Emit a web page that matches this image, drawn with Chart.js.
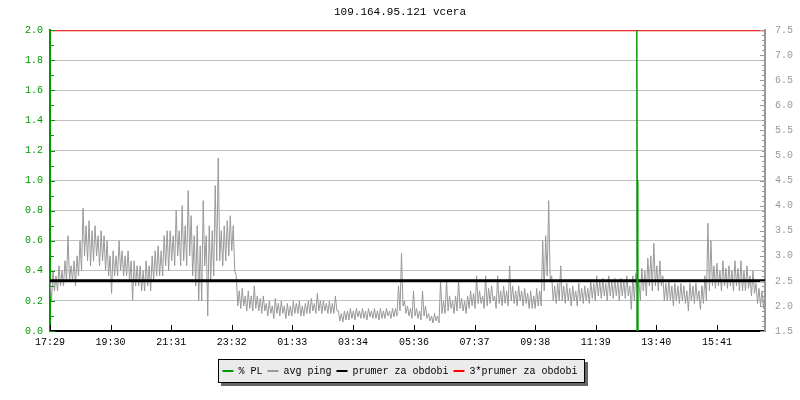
<!DOCTYPE html>
<html>
<head>
<meta charset="utf-8">
<title>109.164.95.121 vcera</title>
<script src="https://cdn.jsdelivr.net/npm/chart.js@4/dist/chart.umd.min.js"></script>
<style>
  html, body { margin: 0; padding: 0; background: #fff; }
  #wrap { width: 800px; height: 400px; }
</style>
</head>
<body>
<div id="wrap"><canvas id="graf" width="800" height="400"></canvas></div>
<script>
// --- data ---
const chartTitle = '109.164.95.121 vcera';
const timeLabels = ['17:29', '19:30', '21:31', '23:32', '01:33', '03:34', '05:36', '07:37', '09:38', '11:39', '13:40', '15:41'];
const tickMinutes = [0, 121, 242, 363, 484, 605, 727, 848, 969, 1090, 1211, 1332]; // minutes from 17:29
const spanMinutes = 1428;
const pingStep = 6; // one slot every 6 minutes, max then min inside the slot

// avg ping (right axis), highest value in each slot
const pingHi = [
	2.5, 2.7, 2.6, 2.8, 2.7, 2.9, 3.4, 2.8, 2.9, 3.0,
	3.3, 3.95, 3.6, 3.7, 3.5, 3.6, 3.4, 3.5, 3.4, 3.3,
	3.0, 3.1, 3.0, 3.3, 3.1, 3.0, 3.1, 2.9, 2.9, 2.8,
	2.8, 2.7, 2.9, 2.8, 3.0, 3.1, 3.2, 3.1, 3.4, 3.5,
	3.5, 3.4, 3.9, 3.5, 4.0, 3.6, 4.3, 3.8, 3.4, 3.6,
	3.2, 4.1, 3.4, 3.6, 3.5, 4.4, 4.95, 3.5, 3.6, 3.7,
	3.8, 3.6, 2.6, 2.3, 2.35, 2.2, 2.3, 2.2, 2.4, 2.2,
	2.15, 2.2, 2.05, 2.1, 2.0, 2.15, 2.05, 2.1, 2.0, 2.05,
	2.0, 2.1, 2.05, 2.1, 2.0, 2.05, 2.1, 2.15, 2.05, 2.25,
	2.1, 2.1, 2.05, 2.1, 2.05, 2.2, 1.9, 1.85, 1.9, 1.9,
	1.95, 1.9, 1.95, 1.9, 1.95, 1.9, 1.95, 1.9, 1.95, 1.9,
	1.95, 1.9, 1.95, 1.9, 1.95, 1.95, 2.4, 3.05, 2.1, 2.0,
	1.95, 2.3, 1.95, 1.9, 2.3, 2.0, 1.85, 1.8, 1.85, 1.8,
	2.5, 2.1, 2.5, 2.2, 2.1, 2.2, 2.5, 2.15, 2.1, 2.2,
	2.3, 2.25, 2.6, 2.3, 2.2, 2.6, 2.35, 2.4, 2.2, 2.6,
	2.3, 2.4, 2.3, 2.8, 2.4, 2.3, 2.4, 2.3, 2.35, 2.25,
	2.3, 2.2, 2.35, 2.3, 3.3, 3.4, 4.1, 2.6, 2.4, 2.45,
	2.8, 2.4, 2.45, 2.35, 2.4, 2.3, 2.45, 2.35, 2.4, 2.35,
	2.5, 2.45, 2.6, 2.5, 2.55, 2.45, 2.6, 2.5, 2.55, 2.5,
	2.55, 2.5, 2.6, 2.4, 2.6, 2.65, 2.5, 2.75, 2.7, 2.95,
	3.0, 3.25, 2.8, 2.9, 2.6, 2.45, 2.5, 2.4, 2.45, 2.4,
	2.45, 2.4, 2.3, 2.45, 2.4, 2.45, 2.3, 2.4, 2.6, 3.65,
	3.3, 2.8, 2.85, 2.7, 2.9, 2.75, 2.8, 2.7, 2.9, 2.75,
	2.9, 2.7, 2.8, 2.6, 2.7, 2.45, 2.35, 2.3, 2.3
];

// avg ping (right axis), lowest value in each slot
const pingLo = [
	2.1, 2.3, 2.3, 2.4, 2.4, 2.5, 2.5, 2.5, 2.4, 2.6,
	2.7, 3.0, 2.9, 2.8, 2.9, 3.0, 2.8, 2.9, 2.7, 2.6,
	2.25, 2.6, 2.6, 2.7, 2.6, 2.6, 2.5, 2.1, 2.4, 2.4,
	2.3, 2.3, 2.4, 2.3, 2.5, 2.6, 2.6, 2.6, 2.8, 2.7,
	2.9, 2.8, 3.0, 2.8, 2.9, 2.8, 3.0, 2.6, 2.4, 2.1,
	2.1, 2.8, 1.8, 2.5, 2.6, 2.9, 2.9, 2.8, 2.9, 3.0,
	3.1, 2.7, 2.0, 1.95, 2.0, 1.9, 1.95, 1.9, 1.95, 1.9,
	1.85, 1.9, 1.8, 1.85, 1.75, 1.85, 1.8, 1.85, 1.75, 1.8,
	1.8, 1.85, 1.85, 1.8, 1.8, 1.85, 1.85, 1.9, 1.85, 1.9,
	1.85, 1.9, 1.85, 1.85, 1.85, 1.9, 1.7, 1.68, 1.72, 1.72,
	1.75, 1.72, 1.78, 1.75, 1.75, 1.72, 1.78, 1.75, 1.75, 1.72,
	1.75, 1.75, 1.8, 1.75, 1.78, 1.8, 1.9, 2.0, 1.85, 1.8,
	1.75, 1.8, 1.75, 1.72, 1.8, 1.75, 1.7, 1.66, 1.7, 1.66,
	1.85, 1.85, 1.9, 1.95, 1.85, 1.9, 1.95, 1.9, 1.85, 1.95,
	2.0, 1.95, 2.05, 2.05, 1.95, 2.0, 2.05, 2.1, 1.95, 2.05,
	2.0, 2.05, 2.0, 2.1, 2.05, 2.0, 2.1, 2.0, 2.05, 1.95,
	1.95, 1.95, 2.0, 2.0, 2.3, 2.6, 2.5, 2.1, 2.05, 2.1,
	2.1, 2.05, 2.1, 2.0, 2.1, 2.0, 2.1, 2.05, 2.1, 2.05,
	2.15, 2.1, 2.2, 2.15, 2.2, 2.1, 2.2, 2.15, 2.2, 2.1,
	2.2, 2.15, 2.2, 1.93, 2.1, 2.3, 2.1, 2.3, 2.2, 2.4,
	2.3, 2.4, 2.3, 2.4, 2.1, 2.1, 2.1, 2.0, 2.1, 2.05,
	2.1, 2.05, 1.9, 2.1, 2.05, 2.1, 1.93, 2.05, 2.1, 2.3,
	2.4, 2.35, 2.4, 2.3, 2.4, 2.35, 2.4, 2.3, 2.4, 2.3,
	2.3, 2.3, 2.35, 2.2, 2.25, 2.05, 2.0, 1.95, 2.05
];

// packet loss spike (left axis, %)
const plMinutes = [1171, 1172, 1173, 1174];
const plValues = [0, 2, 1, 0];

const prumer = 2.5; // prumer za obdobi
const prumer3 = 3 * prumer;

const GREEN = '#009900';
const GRAY = '#999999';

Chart.defaults.font.family = '"Liberation Mono", "DejaVu Sans Mono", monospace';
Chart.defaults.font.size = 10;
Chart.defaults.color = '#000';

// max and min of every slot, one after the other
const pingPoints = [];
pingHi.forEach(function (v, i) {
	pingPoints.push({ x: i * pingStep, y: v });
	pingPoints.push({ x: i * pingStep + pingStep / 2, y: pingLo[i] });
});

// inward tick marks + minor ticks like rrdtool draws them
const tickMarks = {
	id: 'tickMarks',
	afterDraw(chart) {
		const ctx = chart.ctx;
		const area = chart.chartArea;
		const yl = chart.scales.y;
		const yr = chart.scales.y2;
		const x = chart.scales.x;
		ctx.save();
		ctx.lineWidth = 1;
		//left axis
		ctx.strokeStyle = GREEN;
		for (let k = 0; k <= 20; k++) {
			const py = Math.round(yl.getPixelForValue(k / 10)) + 0.5;
			const len = (k % 2 === 0) ? 5 : 4;
			ctx.beginPath(); ctx.moveTo(area.left, py); ctx.lineTo(area.left + len, py); ctx.stroke();
		}
		//right axis
		ctx.strokeStyle = GRAY;
		for (let k = 15; k <= 75; k++) {
			const py = Math.round(yr.getPixelForValue(k / 10)) + 0.5;
			const len = (k % 5 === 0) ? 5 : 3;
			ctx.beginPath(); ctx.moveTo(area.right, py); ctx.lineTo(area.right - len, py); ctx.stroke();
		}
		//time axis
		ctx.strokeStyle = '#000';
		tickMinutes.forEach(function (m) {
			const px = Math.round(x.getPixelForValue(m)) + 0.5;
			ctx.beginPath(); ctx.moveTo(px, area.bottom); ctx.lineTo(px, area.bottom - 6); ctx.stroke();
		});
		ctx.restore();
	}
};

// grey box with shadow behind the legend
const legendBox = {
	id: 'legendBox',
	beforeDraw(chart) {
		const lg = chart.legend;
		if (!lg || !lg.legendHitBoxes || !lg.legendHitBoxes.length) return;
		const hb = lg.legendHitBoxes;
		const l = Math.round(Math.min.apply(null, hb.map(b => b.left))) - 4;
		const r = Math.round(Math.max.apply(null, hb.map(b => b.left + b.width))) + 7;
		const t = Math.round(hb[0].top) - 7;
		const b = Math.round(hb[0].top + hb[0].height) + 7;
		const ctx = chart.ctx;
		ctx.save();
		ctx.fillStyle = '#666666';
		ctx.fillRect(l + 3, t + 3, r - l, b - t);
		ctx.fillStyle = '#ebebeb';
		ctx.fillRect(l, t, r - l, b - t);
		ctx.strokeStyle = '#000';
		ctx.lineWidth = 1;
		ctx.strokeRect(l + 0.5, t + 0.5, r - l - 1, b - t - 1);
		ctx.restore();
	}
};

const ctx = document.getElementById('graf');
new Chart(ctx, {
	type: 'line',
	data: {
		datasets: [
			{
				label: '% PL',
				data: plMinutes.map((m, i) => ({ x: m, y: plValues[i] })),
				yAxisID: 'y',
				borderColor: GREEN,
				backgroundColor: GREEN,
				borderWidth: 1,
				pointRadius: 0,
				order: 0
			},
			{
				label: 'avg ping',
				data: pingPoints,
				yAxisID: 'y2',
				borderColor: GRAY,
				backgroundColor: GRAY,
				borderWidth: 1,
				pointRadius: 0,
				order: 3
			},
			{
				label: 'prumer za obdobi',
				data: [{ x: 0, y: prumer }, { x: spanMinutes, y: prumer }],
				yAxisID: 'y2',
				borderColor: '#000000',
				backgroundColor: '#000000',
				borderWidth: 3,
				pointRadius: 0,
				order: 1
			},
			{
				label: '3*prumer za obdobi',
				data: [{ x: 0, y: prumer3 }, { x: spanMinutes, y: prumer3 }],
				yAxisID: 'y2',
				borderColor: '#ff0000',
				backgroundColor: '#ff0000',
				borderWidth: 2,
				pointRadius: 0,
				order: 2
			}
		]
	},
	options: {
		responsive: false,
		animation: false,
		events: [],
		layout: { padding: { top: 0, bottom: 14, left: 0, right: 0 } },
		plugins: {
			tooltip: { enabled: false },
			title: {
				display: true,
				text: chartTitle,
				color: '#000',
				font: { size: 11, weight: 'normal' },
				padding: { top: 5, bottom: 12 }
			},
			legend: {
				position: 'bottom',
				labels: {
					boxWidth: 11,
					boxHeight: 2,
					padding: 5,
					color: '#000',
					generateLabels(chart) {
						return chart.data.datasets.map((ds, i) => ({
							text: ds.label,
							fillStyle: ds.borderColor,
							strokeStyle: ds.borderColor,
							lineWidth: 0,
							hidden: false,
							datasetIndex: i,
							fontColor: '#000'
						}));
					}
				}
			}
		},
		scales: {
			x: {
				type: 'linear',
				min: 0,
				max: spanMinutes,
				afterBuildTicks(scale) { scale.ticks = tickMinutes.map(m => ({ value: m })); },
				afterFit(scale) { scale.height = 30; },
				ticks: {
					autoSkip: false,
					maxRotation: 0,
					padding: 5,
					color: '#000',
					callback: (v, i) => timeLabels[i]
				},
				grid: { display: false, drawTicks: false },
				border: { display: true, color: '#000', width: 2 }
			},
			y: {
				position: 'left',
				min: 0,
				max: 2,
				afterFit(scale) { scale.width = 50; },
				ticks: { stepSize: 0.2, padding: 7, color: GREEN, callback: v => v.toFixed(1) },
				grid: { color: '#c0c0c0', lineWidth: 1, drawTicks: false },
				border: { color: GREEN, width: 2 }
			},
			y2: {
				position: 'right',
				min: 1.5,
				max: 7.5,
				afterFit(scale) { scale.width = 35; },
				ticks: { stepSize: 0.5, padding: 10, color: GRAY, callback: v => v.toFixed(1) },
				grid: { drawOnChartArea: false, drawTicks: false },
				border: { color: GRAY, width: 2 }
			}
		}
	},
	plugins: [legendBox, tickMarks]
});
</script>
</body>
</html>
